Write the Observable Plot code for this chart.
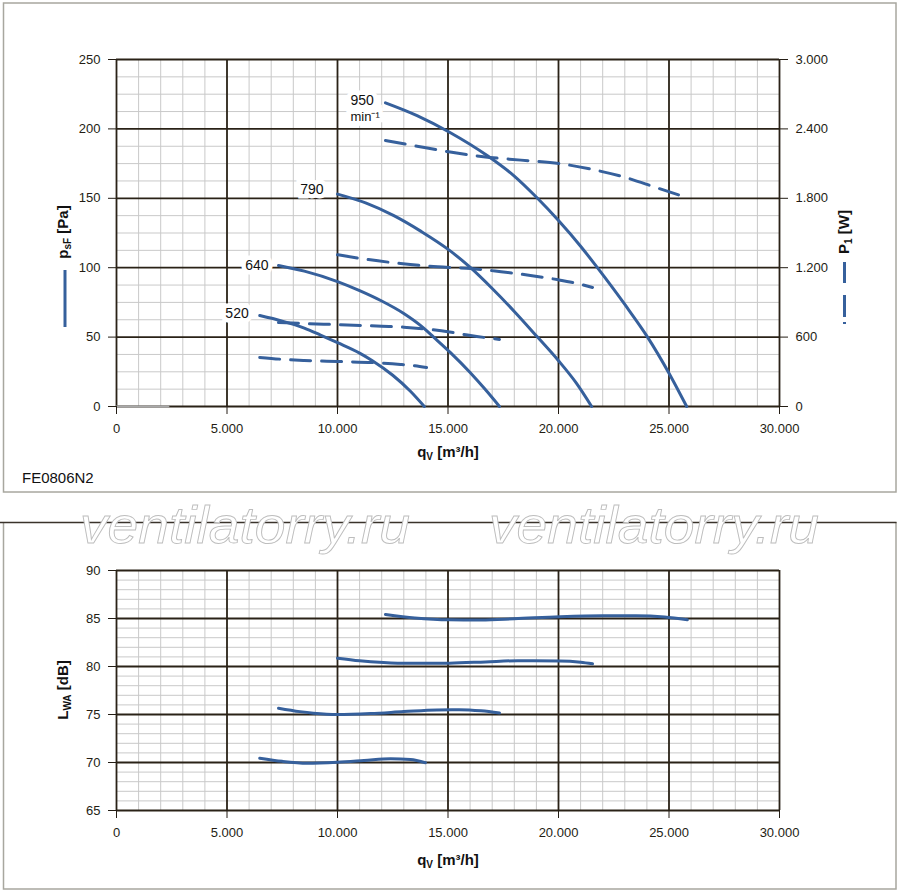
<!DOCTYPE html>
<html><head><meta charset="utf-8">
<script src="https://cdn.jsdelivr.net/npm/d3@7"></script>
<script src="https://cdn.jsdelivr.net/npm/@observablehq/plot@0.6"></script>
<style>
html,body{margin:0;padding:0;background:#fff;}
#wrap{position:relative;width:900px;height:892px;overflow:hidden;font-family:"Liberation Sans",Arial,Helvetica,sans-serif;}
#wrap > svg{position:absolute;left:0;}
</style></head><body><div id="wrap"></div>
<script>
// ---- data ----
const speeds = ["950", "790", "640", "520"];
const xMajor = [0, 5000, 10000, 15000, 20000, 25000, 30000];
const xMinor = d3.range(0, 30001, 1000);
const pMajor = [0, 50, 100, 150, 200, 250];
const pMinor = d3.range(0, 250.01, 12.5);
const wTicks = [0, 600, 1200, 1800, 2400, 3000];
const lMajor = [65, 70, 75, 80, 85, 90];
const lMinor = d3.range(65, 90.01, 1);

// static pressure psF [Pa] vs qV [m3/h]
const ps950 = [[12170,218.8],[13600,209.6],[15070,197.6],[16770,180.8],[18000,166],[19050,150],[20000,134],[21000,115.5],[21760,100],[23000,73.5],[24030,50],[25000,24],[25800,0]];
const ps790 = [[10000,153],[11300,146.5],[12550,137.5],[13800,126],[15070,112.5],[16020,100],[17000,85],[18000,68.5],[19050,50],[20000,33],[20800,17],[21500,0]];
const ps640 = [[7330,101.6],[8500,97.5],[10000,90],[11000,83.5],[12000,76],[13000,67],[13900,56.5],[14350,50],[15100,39],[16000,24.5],[16700,12],[17330,0]];
const ps520 = [[6480,65.5],[7500,61.5],[8500,56.5],[9230,51.5],[10000,46],[11000,38.5],[11580,33],[12500,22.5],[13300,11],[13930,0]];

// input power P1 [W]
const pw950 = [[12170,2300],[13600,2250],[15100,2200],[16600,2160],[18300,2130],[20050,2100],[21520,2050],[23030,1980],[24460,1890],[25830,1805]];
const pw790 = [[10000,1312],[11400,1270],[12850,1236],[14000,1215],[15070,1202],[16020,1193],[17400,1165],[18730,1133],[20000,1095],[20850,1063],[21540,1029]];
const pw640 = [[7330,726],[8700,716],[10000,708],[12000,694],[13000,686],[13900,672],[15070,644],[16020,614],[17330,580]];
const pw520 = [[6480,424],[7500,408],[8500,398],[10000,389],[11580,380],[12850,364],[13500,352],[14030,337]];

// sound power LWA [dB]
const lw950 = [[12170,85.42],[13500,85.05],[15070,84.86],[16500,84.85],[18000,84.97],[20050,85.18],[22000,85.28],[23500,85.28],[24800,85.15],[25830,84.86]];
const lw790 = [[10000,80.87],[11000,80.6],[12080,80.42],[13200,80.33],[15070,80.35],[16700,80.48],[18150,80.6],[20050,80.58],[21000,80.45],[21540,80.28]];
const lw640 = [[7330,75.66],[8300,75.3],[8910,75.14],[10000,75.0],[11500,75.1],[13000,75.3],[14500,75.48],[15500,75.5],[16500,75.38],[17330,75.15]];
const lw520 = [[6480,70.45],[7500,70.12],[8630,69.93],[10000,70.03],[11200,70.2],[12400,70.38],[13300,70.3],[13980,69.98]];

const baseStub = [[0,0],[2350,0]];

// ---- style ----
const BLUE = "#36609c";
const MAJOR = "#2a2217";
const MINOR = "#c9c9c9";
const FONT = "'Liberation Sans', Arial, Helvetica, sans-serif";
const loc = d3.formatLocale({decimal: ",", thousands: ".", grouping: [3], currency: ["", ""]});
const fmt = loc.format(",");
const X = d => d[0], Y = d => d[1];
const style = {fontFamily: FONT, fontSize: "13px", color: "#241d14", background: "transparent", overflow: "visible"};

const grid = (minY, majY) => [
  Plot.ruleX(xMinor.filter(v => v % 5000), {stroke: MINOR, strokeWidth: 1}),
  Plot.ruleY(minY.filter(v => !majY.includes(v)), {stroke: MINOR, strokeWidth: 1}),
  Plot.ruleX(xMajor, {stroke: MAJOR, strokeWidth: 1.8}),
  Plot.ruleY(majY, {stroke: MAJOR, strokeWidth: 1.8})
];

const solid = (data) => Plot.line(data, {x: X, y: Y, curve: "monotone-x", stroke: BLUE, strokeWidth: 3});
const dashed = (data) => Plot.line(data, {x: X, y: Y, curve: "monotone-x", stroke: BLUE, strokeWidth: 3, strokeDasharray: "20,11"});
const halo = {fontSize: 14, fill: "#111", stroke: "white", strokeWidth: 9, strokeLinejoin: "miter", fontFamily: FONT};

const wrap = document.getElementById("wrap");

// ---- top chart: pressure ----
const chartP = Plot.plot({
  width: 900, height: 495,
  marginLeft: 116, marginRight: 121, marginTop: 59, marginBottom: 89,
  x: {domain: [0, 30000]},
  y: {domain: [0, 250]},
  style,
  marks: [
    ...grid(pMinor, pMajor),
    Plot.line(baseStub, {x: X, y: Y, stroke: "#a9a9a9", strokeWidth: 2}),
    Plot.axisX({ticks: xMajor, tickFormat: fmt, tickSize: 8, tickPadding: 9, label: null, fontSize: 13}),
    Plot.axisY({ticks: pMajor, tickFormat: fmt, tickSize: 8, tickPadding: 8, label: null, fontSize: 13}),
    solid(ps950), solid(ps790), solid(ps640), solid(ps520),
    Plot.text([ps950[0]], {x: X, y: Y, text: () => speeds[0], textAnchor: "start", dx: -35, dy: -2, ...halo}),
    Plot.text([ps950[0]], {x: X, y: Y, text: () => "min⁻¹", textAnchor: "start", dx: -35, dy: 14, ...halo, fontSize: 13}),
    Plot.text([ps790[0]], {x: X, y: Y, text: () => speeds[1], textAnchor: "end", dx: -14, dy: -5, ...halo}),
    Plot.text([ps640[0]], {x: X, y: Y, text: () => speeds[2], textAnchor: "end", dx: -10, dy: 0, ...halo}),
    Plot.text([ps520[0]], {x: X, y: Y, text: () => speeds[3], textAnchor: "end", dx: -11, dy: -2, ...halo})
  ]
});
chartP.style.top = "0px";
wrap.appendChild(chartP);

// ---- top chart overlay: power (right axis) ----
const chartW = Plot.plot({
  width: 900, height: 495,
  marginLeft: 116, marginRight: 121, marginTop: 59, marginBottom: 89,
  x: {domain: [0, 30000], axis: null},
  y: {domain: [0, 3000]},
  style,
  marks: [
    Plot.axisY({anchor: "right", ticks: wTicks, tickFormat: fmt, tickSize: 8, tickPadding: 8, label: null, fontSize: 13}),
    dashed(pw950), dashed(pw790), dashed(pw640), dashed(pw520)
  ]
});
chartW.style.top = "0px";
wrap.appendChild(chartW);

// ---- bottom chart: sound power ----
const chartL = Plot.plot({
  width: 900, height: 397,
  marginLeft: 116, marginRight: 121, marginTop: 75, marginBottom: 82,
  x: {domain: [0, 30000]},
  y: {domain: [65, 90]},
  style,
  marks: [
    ...grid(lMinor, lMajor),
    Plot.axisX({ticks: xMajor, tickFormat: fmt, tickSize: 8, tickPadding: 9, label: null, fontSize: 13}),
    Plot.axisY({ticks: lMajor, tickSize: 8, tickPadding: 8, label: null, fontSize: 13}),
    solid(lw950), solid(lw790), solid(lw640), solid(lw520)
  ]
});
chartL.style.top = "495px";
wrap.appendChild(chartL);

// ---- frames, titles, watermark ----
const ov = document.createElementNS("http://www.w3.org/2000/svg", "svg");
ov.setAttribute("width", 900); ov.setAttribute("height", 892);
ov.style.cssText = "position:absolute;left:0;top:0;pointer-events:none;";
ov.setAttribute("font-family", FONT);
ov.innerHTML = `
<rect x="3.5" y="3" width="892.5" height="489" fill="none" stroke="#a8a79f" stroke-width="1.5"/>
<path d="M3.5 522 V889 H896 V522" fill="none" stroke="#a8a79f" stroke-width="1.5"/>
<line x1="0" x2="896.5" y1="522.5" y2="522.5" stroke="#3a332b" stroke-width="1.5"/>
<g font-family="'Liberation Sans', Arial, sans-serif" font-style="italic" font-size="52" fill="#ffffff" stroke="#bdbdbd" stroke-width="0.9">
  <text x="80" y="543" textLength="330" lengthAdjust="spacingAndGlyphs">ventilatorry.ru</text>
  <text x="489" y="543" textLength="330" lengthAdjust="spacingAndGlyphs">ventilatorry.ru</text>
</g>
<g font-weight="bold" font-size="15" fill="#111">
  <text x="448" y="457" text-anchor="middle">q<tspan font-size="10" dy="3">V</tspan><tspan dy="-3"> [m³/h]</tspan></text>
  <text x="448" y="865" text-anchor="middle">q<tspan font-size="10" dy="3">V</tspan><tspan dy="-3"> [m³/h]</tspan></text>
  <text transform="translate(68,232) rotate(-90)" text-anchor="middle">p<tspan font-size="10" dy="3">sF</tspan><tspan dy="-3"> [Pa]</tspan></text>
  <text transform="translate(849,232) rotate(-90)" text-anchor="middle">P<tspan font-size="10" dy="3">1</tspan><tspan dy="-3"> [W]</tspan></text>
  <text transform="translate(68,690) rotate(-90)" text-anchor="middle">L<tspan font-size="10" dy="3">WA</tspan><tspan dy="-3"> [dB]</tspan></text>
</g>
<line x1="65" x2="65" y1="270" y2="327" stroke="${BLUE}" stroke-width="3"/>
<line x1="844.5" x2="844.5" y1="262" y2="325" stroke="${BLUE}" stroke-width="3" stroke-dasharray="21,12,22,5,2"/>
<text x="22" y="483" font-size="15" fill="#111">FE0806N2</text>
`;
wrap.appendChild(ov);
</script>
</body></html>
